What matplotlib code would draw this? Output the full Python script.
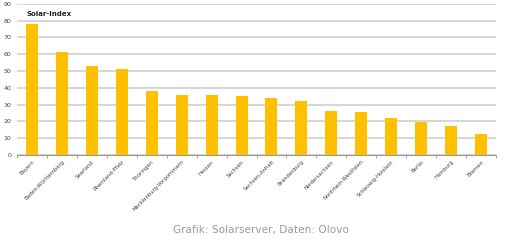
import matplotlib
matplotlib.use('Agg')
import matplotlib.pyplot as plt
import numpy as np

states = ['Bayern', 'Baden-Württemberg', 'Saarland', 'Rheinland-Pfalz', 'Thüringen',
          'Mecklenburg-Vorpommern', 'Hessen', 'Sachsen', 'Sachsen-Anhalt', 'Brandenburg',
          'Niedersachsen', 'Nordrhein-Westfalen', 'Schleswig-Holstein', 'Berlin',
          'Hamburg', 'Bremen']
index_values = [78, 61.5, 53, 51.5, 38, 36, 36, 35, 34, 32, 26, 25.5, 22, 19.7, 17, 12.5]
y_ticks = list(range(0, 91, 10))

fig = plt.figure(figsize=(5.12, 2.43), dpi=100)
ax = fig.add_axes([0.033, 0.362, 0.936, 0.622])

x = np.arange(len(states))
ax.bar(x, index_values, width=0.4, color='#FFC000', zorder=3)

ax.set_xlim(-0.5, len(states) - 0.5)
ax.set_ylim(0, 90)
ax.set_yticks(y_ticks)
ax.set_yticklabels([str(v) for v in y_ticks], fontsize=4.5, color='#444444')
ax.grid(True, axis='y', color='#cccccc', linewidth=1.1, zorder=0)

ax.set_xticks(x)
ax.set_xticklabels(states, rotation=45, ha='right', rotation_mode='anchor',
                   fontsize=3.8, color='#444444')
ax.tick_params(axis='x', length=0, pad=3)
ax.tick_params(axis='y', length=0, pad=4)
ax.set_xticks(np.arange(-0.5, len(states)), minor=True)
ax.tick_params(axis='x', which='minor', length=2, color='#999999', width=0.6)

for s in ['top', 'right', 'left']:
    ax.spines[s].set_visible(False)
ax.spines['bottom'].set_color('#999999')
ax.spines['bottom'].set_linewidth(0.8)

ax.text(0.021, 0.935, 'Solar-Index', transform=ax.transAxes, fontsize=5,
        fontweight='bold', color='#222222', va='center')

fig.text(0.509, 0.053, 'Grafik: Solarserver, Daten: Olovo', ha='center', va='center',
         fontsize=7.6, color='#9a9a9a')

fig.savefig('out.png', dpi=100)
